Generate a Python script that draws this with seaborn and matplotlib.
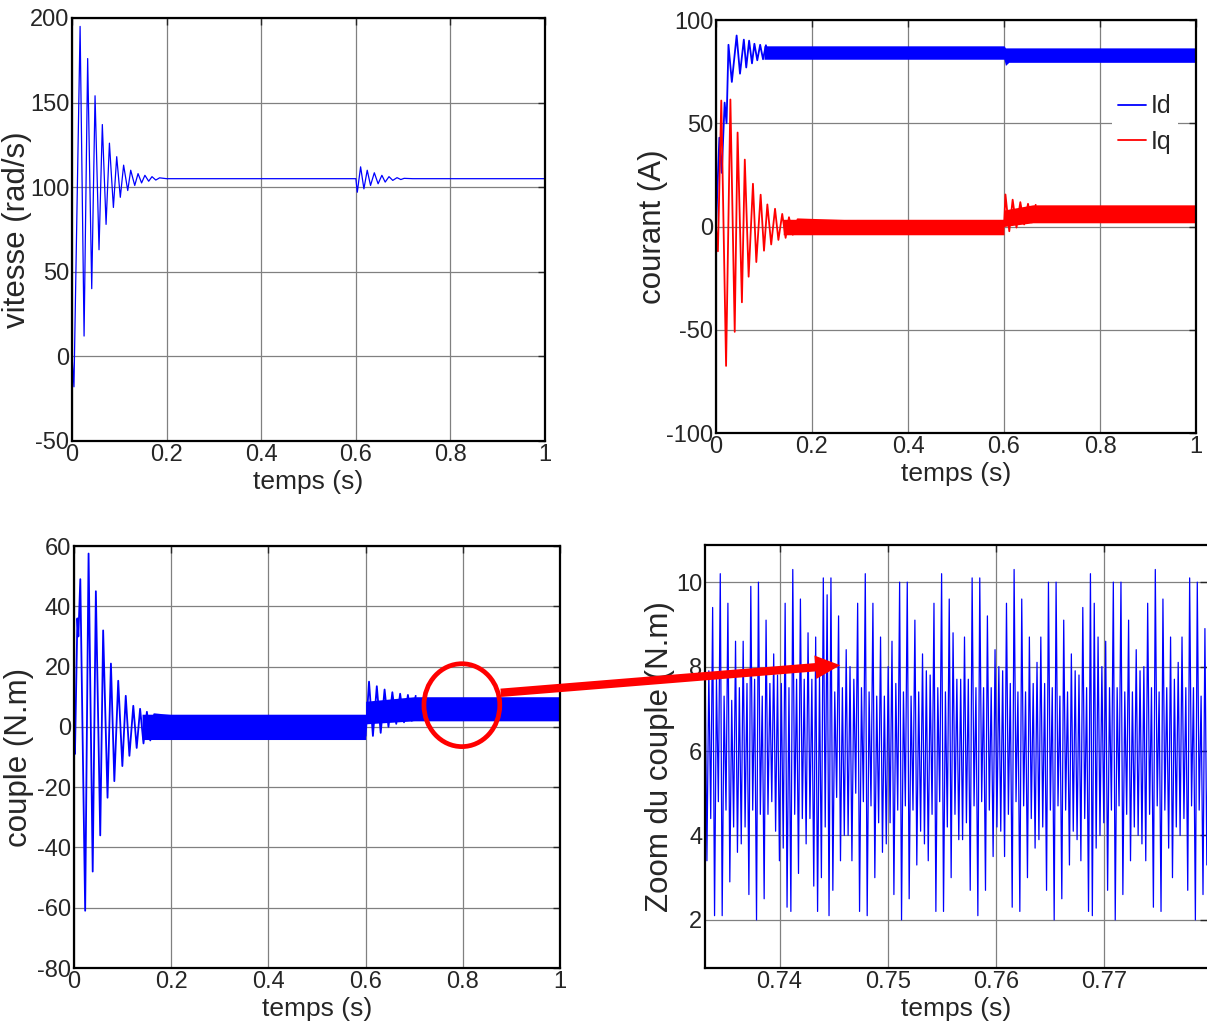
import numpy as np
import matplotlib
matplotlib.use('Agg')
import matplotlib.pyplot as plt
import seaborn as sns
from matplotlib.patches import Ellipse, FancyArrowPatch

# ---- vitesse (rad/s): extrema
t_vit = [0, 0.004, 0.017, 0.0254, 0.033, 0.0416, 0.0486, 0.057, 0.064, 0.0719, 0.079,
         0.0874, 0.0944, 0.102, 0.109, 0.1177, 0.124, 0.1325, 0.1395, 0.147, 0.154,
         0.162, 0.169, 0.177, 0.185, 0.2, 0.6, 0.603, 0.61, 0.617, 0.624, 0.631, 0.639,
         0.647, 0.655, 0.662, 0.670, 0.678, 0.687, 0.695, 0.702, 0.72, 1.0]
vitesse = [0, -18, 195, 12, 176, 40, 154, 63, 137, 78, 126,
           88, 118, 94, 113, 98, 110, 101, 108, 102.5, 107,
           103.5, 106.2, 104.2, 105.5, 105, 105, 97, 112, 99, 110, 101, 108.5,
           102, 107, 103, 106.2, 104, 105.6, 104.5, 105.2, 105, 105]

# ---- courant Id / Iq (A)
t_id = [0, 0.007, 0.012, 0.018, 0.022, 0.026, 0.033, 0.043, 0.05, 0.058, 0.063,
        0.069, 0.075, 0.08, 0.086, 0.092, 0.098, 0.104, 0.11]
id_vals = [0, 43, 26, 60, 50, 88, 70, 92.5, 74, 90.5, 77,
           90, 79, 88.5, 80.5, 88, 81, 87.8, 81.5]
t_id_band = [0.1, 0.6, 0.603, 0.61, 1.0]
id_low = [81, 81, 78, 79.5, 79.5]
id_high = [87.5, 87.5, 86.5, 86.5, 86.5]

t_iq = [0, 0.004, 0.011, 0.021, 0.030, 0.039, 0.045, 0.054, 0.060, 0.068, 0.077,
        0.084, 0.093, 0.100, 0.107, 0.115, 0.123, 0.130, 0.138, 0.145, 0.152, 0.16,
        0.17, 0.6, 0.603, 0.611, 0.618, 0.626, 0.634, 0.642, 0.650, 0.658, 0.666]
iq_vals = [0, -12, 61, -67.5, 61.5, -51, 45.5, -36.7, 32.4, -24.3, 20.7,
           -17.2, 15.4, -11.7, 10.7, -8.7, 8.6, -6.5, 6.1, -5.5, 4.5, -4,
           3.5, 0, 15.5, -2.3, 13, -0.5, 11.8, 1, 11, 2, 10.5]
t_iq_band = [0.14, 0.6, 0.6, 0.66, 1.0]
iq_low = [-4, -4, 0, 1.8, 1.8]
iq_high = [3.5, 3.5, 8, 10.5, 10.5]

# ---- couple (N.m)
t_cpl = [0, 0.002, 0.007, 0.009, 0.013, 0.023, 0.030, 0.0385, 0.045, 0.054, 0.060,
         0.069, 0.076, 0.083, 0.091, 0.0995, 0.1065, 0.114, 0.122, 0.129, 0.136,
         0.143, 0.15, 0.157, 0.165, 0.6, 0.607, 0.615, 0.623, 0.631, 0.639, 0.647,
         0.655, 0.663, 0.671, 0.679, 0.687, 0.695, 0.703]
couple = [-5, -9, 36, 30, 49, -61, 57.5, -48, 45, -36, 32,
          -23.5, 21, -18, 15.3, -13, 10.3, -9.6, 7, -7, 6,
          -5.5, 5, -4.5, 4.2, -3, 15, -3, 13.5, -2, 12.4, 0,
          11.5, 1, 11, 1.5, 10.6, 2, 10.3]
t_cpl_band = [0.14, 0.6, 0.6, 0.7, 1.0]
cpl_low = [-4.2, -4.2, 1, 2, 2]
cpl_high = [4.2, 4.2, 8.5, 10, 10]

# ---- zoom du couple: successive peaks / valleys, 0.7331 s -> 0.7797 s
zoom_couple = [
    8.3, 3.4, 7.9, 4.4, 9.4, 2.1, 7.7, 4.8, 10.2, 2.1, 7.3, 4.6, 9.5, 2.9, 7.2, 4.2,
    8.6, 3.6, 7.5, 3.8, 8.6, 4.2, 7.6, 2.6, 9.9, 4.6, 7.7, 2.0, 10.0, 4.5, 7.3, 2.5,
    9.1, 4.5, 7.6, 4.8, 8.3, 4.1, 7.8, 3.4, 7.6, 3.7, 9.5, 2.3, 7.5, 2.2, 10.3, 4.5,
    7.7, 3.1, 9.6, 4.4, 7.7, 3.8, 8.8, 4.4, 7.7, 2.8, 8.7, 2.2, 7.8, 3.0, 10.1, 4.2,
    9.7, 2.1,
    10.1, 2.7, 7.4, 4.9, 9.2, 3.4, 7.5, 4.0, 8.4, 4.0, 8.0, 3.4, 7.7, 5.0, 9.5, 2.2,
    7.5, 4.8, 10.2, 2.1, 7.4, 4.7, 9.5, 3.0, 7.3, 4.3, 8.7, 3.6, 7.3, 3.8, 8.0, 4.3,
    8.6, 2.6, 7.6, 4.6, 10.0, 2.0, 7.4, 4.7, 10.0, 2.5, 7.3, 4.6, 9.1, 3.3, 7.4, 4.1,
    8.3, 3.8, 7.9, 3.4, 7.8, 4.5, 9.5, 2.2, 7.5, 4.8, 10.2, 2.2, 7.4, 4.2, 9.6, 3.0,
    8.8, 4.5, 7.7, 3.9,
    7.7, 3.9, 8.7, 4.3, 7.7, 2.7, 10.1, 4.7, 7.5, 2.1, 10.1, 4.8, 7.5, 2.7, 9.2, 4.6,
    7.5, 3.5, 8.4, 4.2, 8.0, 4.1, 7.9, 3.5, 9.5, 4.5, 7.6, 2.3, 10.3, 4.8, 7.4, 2.2,
    9.6, 4.7, 7.4, 3.0, 8.7, 4.4, 7.6, 3.7, 8.1, 3.9, 8.7, 4.2, 7.6, 2.7, 10.0, 4.6,
    7.5, 2.0, 10.0, 4.7, 7.3, 2.5, 9.1, 4.6, 7.4, 3.3, 8.3, 4.1, 7.9, 3.9, 7.8, 3.4,
    9.4, 4.4, 7.5, 2.2, 10.2, 2.1,
    9.5, 3.7, 8.7, 4.0, 8.0, 4.3, 8.6, 2.7, 7.5, 4.6, 10.0, 2.0, 7.5, 4.7, 10.0, 2.6,
    7.4, 4.5, 9.1, 3.4, 7.4, 4.2, 8.4, 4.0, 7.9, 3.8, 8.0, 3.4, 9.5, 4.5, 7.5, 2.3,
    10.3, 4.7, 7.4, 2.2, 9.6, 4.6, 7.5, 3.7, 8.7, 3.0, 7.7, 4.2, 8.1, 4.0, 8.7, 4.4,
    7.5, 2.7, 10.1, 4.7, 7.5, 2.0, 10.0, 4.6, 7.3, 2.6, 8.9, 3.3, 7.6,
]
t_zoom = np.linspace(0.7331, 0.7797, len(zoom_couple))

full_ticks = [0, 0.2, 0.4, 0.6, 0.8, 1]
full_labels = ['0', '0.2', '0.4', '0.6', '0.8', '1']

sns.set_style('white')
plt.rcParams['font.family'] = ['Liberation Sans', 'DejaVu Sans']
plt.rcParams['axes.unicode_minus'] = False

BLUE = '#0000FF'
RED = '#FF0000'

fig = plt.figure(figsize=(12.07, 10.31), dpi=100)
ax1 = fig.add_axes([0.0597, 0.5723, 0.3919, 0.4103])
ax2 = fig.add_axes([0.5932, 0.5800, 0.3977, 0.4006])
ax3 = fig.add_axes([0.0613, 0.0611, 0.4027, 0.4093])
ax4 = fig.add_axes([0.5841, 0.0611, 0.4159, 0.4103])


def style(ax, xlim, ylim, xticks, xlabels, yticks, ylabel, ylab_x):
    ax.set_xlim(xlim)
    ax.set_ylim(ylim)
    ax.set_xticks(xticks)
    ax.set_xticklabels(xlabels)
    ax.set_yticks(yticks)
    ax.set_yticklabels([f'{v:g}' for v in yticks])
    ax.grid(True, color='#808080', lw=0.9)
    ax.set_axisbelow(True)
    ax.tick_params(direction='in', top=True, right=True, length=5, width=1,
                   labelsize=17, pad=2)
    for s in ax.spines.values():
        s.set_linewidth(1.6)
        s.set_color('black')
    ax.set_xlabel('temps (s)', fontsize=19, labelpad=3)
    ax.set_ylabel(ylabel, fontsize=22.5)
    ax.yaxis.set_label_coords(ylab_x, 0.5)


# vitesse
sns.lineplot(x=t_vit, y=vitesse, ax=ax1, color=BLUE, lw=0.9, estimator=None, sort=False)
style(ax1, (0, 1), (-50, 200), full_ticks, full_labels, [-50, 0, 50, 100, 150, 200],
      'vitesse (rad/s)', -0.085)

# courant
ax2.fill_between(t_id_band, id_low, id_high, color=BLUE, lw=0)
ax2.fill_between(t_iq_band, iq_low, iq_high, color=RED, lw=0)
sns.lineplot(x=t_id, y=id_vals, ax=ax2, color=BLUE, lw=1.3, estimator=None, sort=False, label='Id')
sns.lineplot(x=t_iq, y=iq_vals, ax=ax2, color=RED, lw=1.3, estimator=None, sort=False, label='Iq')
style(ax2, (0, 1), (-100, 100), full_ticks, full_labels, [-100, -50, 0, 50, 100],
      'courant (A)', -0.1)
ax2.legend(loc='upper left', bbox_to_anchor=(0.825, 0.835), frameon=True, fancybox=False,
           edgecolor='none', facecolor='white', framealpha=1, fontsize=18,
           handlelength=1.1, handletextpad=0.2, borderpad=0.25, labelspacing=0.45,
           borderaxespad=0)

# couple
ax3.fill_between(t_cpl_band, cpl_low, cpl_high, color=BLUE, lw=0)
sns.lineplot(x=t_cpl, y=couple, ax=ax3, color=BLUE, lw=1.3, estimator=None, sort=False)
style(ax3, (0, 1), (-80, 60), full_ticks, full_labels, [-80, -60, -40, -20, 0, 20, 40, 60],
      'couple (N.m)', -0.082)
ax3.add_patch(Ellipse((0.798, 7.2), 0.156, 27.5, fill=False, edgecolor=RED, lw=3.4,
                      clip_on=False, zorder=5))

# zoom du couple
sns.lineplot(x=t_zoom, y=zoom_couple, ax=ax4, color=BLUE, lw=0.9, estimator=None, sort=False)
style(ax4, (0.7331, 0.77954), (0.86, 10.88), [0.74, 0.75, 0.76, 0.77],
      ['0.74', '0.75', '0.76', '0.77'], [2, 4, 6, 8, 10], 'Zoom du couple (N.m)', -0.06)
ax4.spines['right'].set_visible(False)

# arrow from the circle to the zoom
arrow = FancyArrowPatch((498 / 1207, 1 - 693 / 1031), (843 / 1207, 1 - 665 / 1031),
                        transform=fig.transFigure,
                        arrowstyle='simple,head_length=1.8,head_width=1.7,tail_width=0.6',
                        mutation_scale=10, color=RED, lw=0, zorder=10)
fig.add_artist(arrow)

fig.savefig('out.png', dpi=100)
